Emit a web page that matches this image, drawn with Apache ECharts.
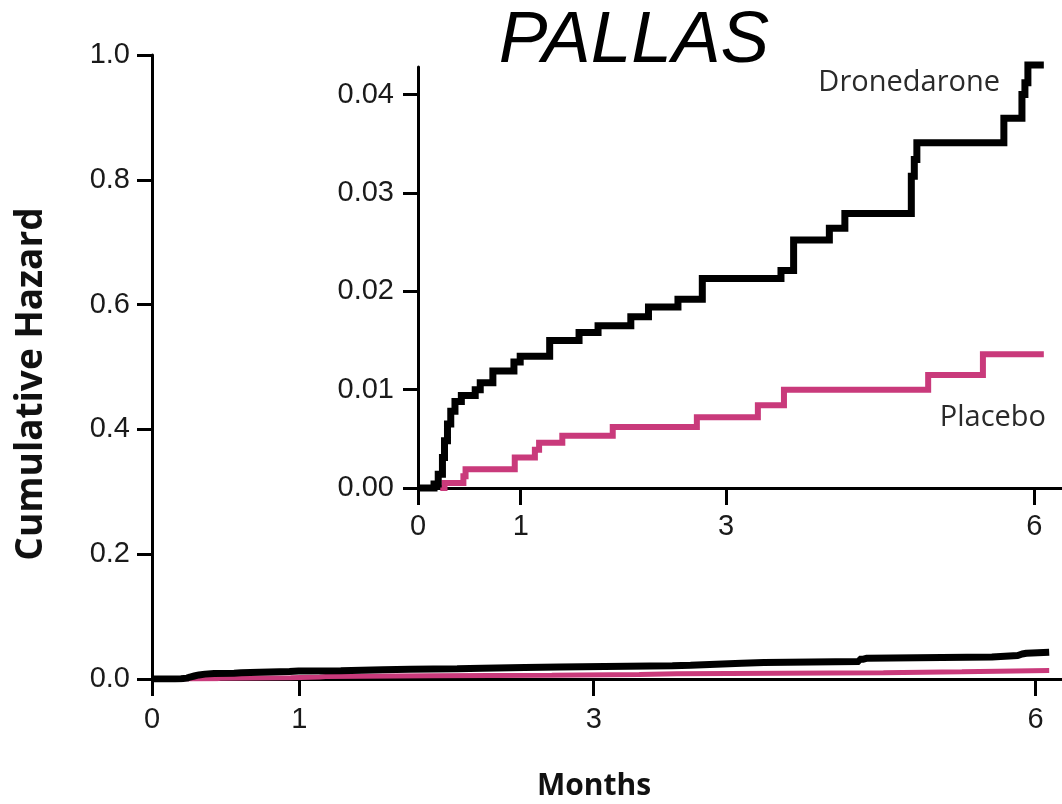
<!DOCTYPE html>
<html>
<head>
<meta charset="utf-8">
<script src="https://cdn.jsdelivr.net/npm/echarts@6/dist/echarts.min.js"></script>
<style>html,body{margin:0;padding:0;background:#fff}#c{width:1062px;height:804px}</style>
</head>
<body>
<div id="c"></div>
<script>
const titleText = 'PALLAS';
const seriesNames = ['Dronedarone', 'Placebo'];
const dronTimes = [0, 0.156, 0.197, 0.238, 0.258, 0.287, 0.319, 0.360, 0.422, 0.557, 0.606, 0.729, 0.934, 0.995, 1.282, 1.568, 1.753, 2.072, 2.244, 2.531, 2.768, 3.534, 3.657, 4.005, 4.156, 4.803, 4.832, 4.857, 5.704, 5.880, 5.909, 5.938, 6.093];
const dronValues = [0, 0.0004, 0.0014, 0.0031, 0.0048, 0.0065, 0.0078, 0.0088, 0.0094, 0.0100, 0.0107, 0.0119, 0.0128, 0.0134, 0.0150, 0.0158, 0.0165, 0.0174, 0.0184, 0.0192, 0.0213, 0.0221, 0.0252, 0.0264, 0.0279, 0.0317, 0.0334, 0.0351, 0.0376, 0.0400, 0.0412, 0.0430, 0.0430];
const placTimes = [0.217, 0.258, 0.442, 0.463, 0.942, 1.138, 1.179, 1.405, 1.896, 2.715, 3.309, 3.563, 4.967, 5.500, 6.093];
const placValues = [0, 0.0005, 0.0012, 0.0019, 0.0031, 0.0039, 0.0046, 0.0053, 0.0062, 0.0072, 0.0084, 0.0100, 0.0115, 0.0136, 0.0136];
const xTickLabels = [0, 1, 3, 6];
const mainYTicks = [0, 0.2, 0.4, 0.6, 0.8, 1.0];
const insetYTicks = [0, 0.01, 0.02, 0.03, 0.04];
const yAxisTitle = 'Cumulative Hazard';
const xAxisTitle = 'Months';

const BLACK = '#000000';
const PINK = '#c93a7b';
const dron = dronTimes.map((t, i) => [t, dronValues[i]]);
const plac = placTimes.map((t, i) => [t, placValues[i]]);

const tickFont = { fontFamily: 'Liberation Sans', fontSize: 29, color: '#1a1a1a' };
function xAxisCfg(gridIndex, max, margin) {
  return {
    type: 'value', gridIndex, min: 0, max,
    axisLine: { lineStyle: { color: BLACK, width: 3 } },
    axisTick: { customValues: xTickLabels, length: 17, lineStyle: { color: BLACK, width: 3 } },
    axisLabel: Object.assign({ customValues: xTickLabels, margin, formatter: v => String(v) }, tickFont),
    splitLine: { show: false }
  };
}
function yAxisCfg(gridIndex, max, ticks, dec, margin) {
  return {
    type: 'value', gridIndex, min: 0, max,
    axisLine: { show: true, lineStyle: { color: BLACK, width: 3 } },
    axisTick: { show: true, customValues: ticks, length: 15, lineStyle: { color: BLACK, width: 3 } },
    axisLabel: Object.assign({ customValues: ticks, margin, formatter: v => v.toFixed(dec) }, tickFont),
    splitLine: { show: false }
  };
}

const chart = echarts.init(document.getElementById('c'), null, { renderer: 'canvas' });
chart.setOption({
  animation: false,
  backgroundColor: '#ffffff',
  title: {
    text: titleText, left: 629, top: 0, textAlign: 'center',
    textStyle: { fontFamily: 'Liberation Sans', fontStyle: 'italic', fontWeight: 'normal', fontSize: 73, color: BLACK }
  },
  grid: [
    { left: 152, right: 0, top: 55, bottom: 125 },
    { left: 418, right: 0, top: 67, height: 421 }
  ],
  xAxis: [xAxisCfg(0, 6.18, 26), xAxisCfg(1, 6.27, 24)],
  yAxis: [yAxisCfg(0, 1, mainYTicks, 1, 22), yAxisCfg(1, 0.0428, insetYTicks, 2, 24)],
  series: [
    { name: seriesNames[0], type: 'line', xAxisIndex: 0, yAxisIndex: 0, step: 'end', data: dron, showSymbol: false, lineStyle: { color: BLACK, width: 7 }, z: 3 },
    { name: seriesNames[1], type: 'line', xAxisIndex: 0, yAxisIndex: 0, step: 'end', data: plac, showSymbol: false, lineStyle: { color: PINK, width: 5 }, z: 2 },
    { name: seriesNames[0], type: 'line', xAxisIndex: 1, yAxisIndex: 1, step: 'end', data: dron, showSymbol: false, clip: false, lineStyle: { color: BLACK, width: 7, join: 'miter' }, z: 3 },
    { name: seriesNames[1], type: 'line', xAxisIndex: 1, yAxisIndex: 1, step: 'end', data: plac, showSymbol: false, clip: false, lineStyle: { color: PINK, width: 6, join: 'miter' }, z: 2 }
  ],
  graphic: [
    { type: 'text', x: 31, y: 384, rotation: Math.PI / 2,
      style: { text: yAxisTitle, fontFamily: 'Open Sans', fontWeight: 'bold', fontSize: 37, fill: '#111', align: 'center', verticalAlign: 'middle' } },
    { type: 'text', x: 594, y: 786,
      style: { text: xAxisTitle, fontFamily: 'Open Sans', fontWeight: 'bold', fontSize: 30, fill: '#111', align: 'center', verticalAlign: 'middle' } },
    { type: 'text', x: 1000, y: 83,
      style: { text: seriesNames[0], fontFamily: 'Open Sans', fontSize: 29, fill: '#2a2a2a', align: 'right', verticalAlign: 'middle' } },
    { type: 'text', x: 1046, y: 418,
      style: { text: seriesNames[1], fontFamily: 'Open Sans', fontSize: 29, fill: '#2a2a2a', align: 'right', verticalAlign: 'middle' } }
  ]
});
</script>
</body>
</html>
